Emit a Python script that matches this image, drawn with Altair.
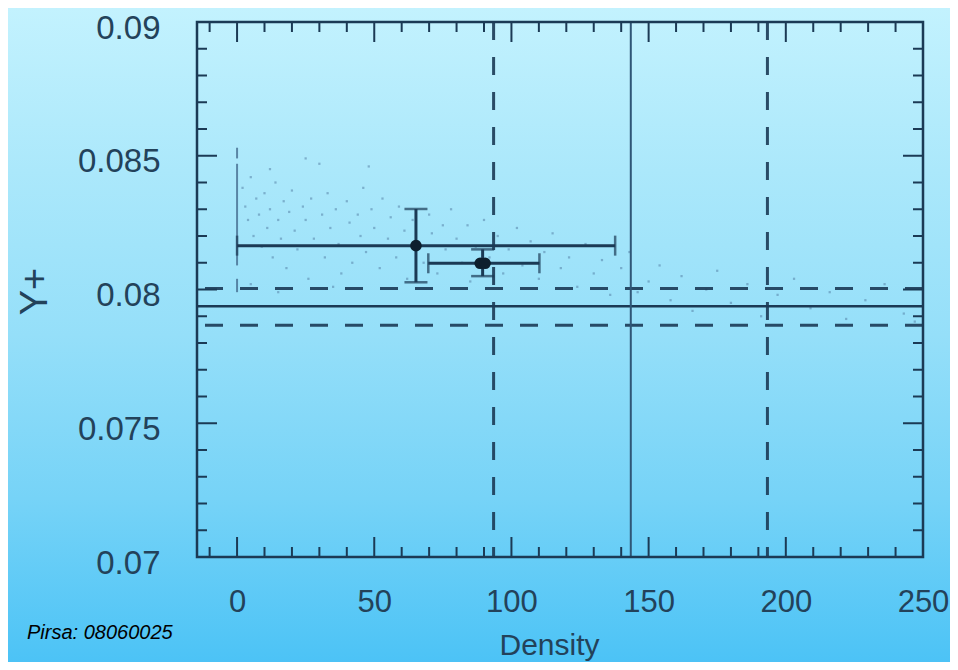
import altair as alt
import pandas as pd

# ---------------- layout ----------------
W, H = 726, 535
PADL, PADT, PADR, PADB = 189, 14, 27, 105

# ---------------- data ----------------
X_DOMAIN = [-14.6, 250]
Y_DOMAIN = [0.07, 0.09]

x_major = [0, 50, 100, 150, 200, 250]
x_minor = [-10, 10, 20, 30, 40, 60, 70, 80, 90, 110, 120, 130, 140,
           160, 170, 180, 190, 210, 220, 230, 240]
y_major = [0.07, 0.075, 0.08, 0.085, 0.09]
y_minor = [0.071, 0.072, 0.073, 0.074, 0.076, 0.077, 0.078, 0.079,
           0.081, 0.082, 0.083, 0.084, 0.086, 0.087, 0.088, 0.089]

h_solid = [0.07937]
h_dashed = [0.08004, 0.07866]
v_solid = [143.5]
v_dashed = [93.5, 193.3]

pt_x = [65.2, 89.5]
pt_y = [0.08164, 0.08098]
pt_xlo = [0.0, 69.7]
pt_xhi = [137.8, 110.2]
pt_ylo = [0.08027, 0.0805]
pt_yhi = [0.08301, 0.0815]
marker_x = [65.2, 88.6, 90.4]
marker_y = [0.08164, 0.08098, 0.08098]

# dense column of points at zero density (segments)
col_y1 = [0.0853, 0.0847, 0.0804]
col_y2 = [0.0849, 0.0809, 0.0799]

cloud_x = [2, 3, 4, 5, 6, 7, 8, 9, 10, 11, 12, 13, 14, 15, 16, 17, 18, 19, 20,
           21, 22, 24, 25, 26, 27, 28, 30, 31, 32, 33, 34, 36, 37, 38, 40, 41,
           42, 44, 45, 46, 47, 49, 50, 52, 53, 55, 56, 58, 59, 61, 62, 64, 66,
           68, 70, 71, 73, 75, 76, 78, 80, 82, 84, 85, 87, 90, 92, 95, 97, 99,
           102, 104, 107, 110, 112, 115, 118, 121, 124, 127, 130, 133, 136,
           140, 143, 146, 150, 154, 158, 162, 166, 171, 175, 180, 186, 191,
           197, 203, 209, 216, 222, 229, 236, 243, 247, 12, 25, 48, 5, 15, 35]
cloud_y = [0.0838, 0.0831, 0.0826, 0.0842, 0.0820, 0.0834, 0.0828, 0.0816,
           0.0836, 0.0823, 0.0830, 0.0812, 0.0840, 0.0826, 0.0819, 0.0833,
           0.0808, 0.0829, 0.0837, 0.0822, 0.0815, 0.0831, 0.0826, 0.0804,
           0.0834, 0.0819, 0.0847, 0.0828, 0.0812, 0.0836, 0.0823, 0.0830,
           0.0817, 0.0806, 0.0833, 0.0825, 0.0810, 0.0828, 0.0820, 0.0838,
           0.0814, 0.0830, 0.0823, 0.0808, 0.0834, 0.0819, 0.0827, 0.0812,
           0.0831, 0.0822, 0.0804, 0.0826, 0.0818, 0.0810, 0.0828, 0.0821,
           0.0806, 0.0824, 0.0815, 0.0830, 0.0819, 0.0810, 0.0824, 0.0803,
           0.0816, 0.0826, 0.0812, 0.0820, 0.0806, 0.0815, 0.0823, 0.0809,
           0.0818, 0.0804, 0.0814, 0.0821, 0.0808, 0.0812, 0.0801, 0.0817,
           0.0806, 0.0811, 0.0798, 0.0808, 0.0814, 0.0799, 0.0803, 0.0809,
           0.0796, 0.0805, 0.0792, 0.0800, 0.0807, 0.0795, 0.0802, 0.0790,
           0.0798, 0.0804, 0.0793, 0.0799, 0.0789, 0.0796, 0.0802, 0.0791,
           0.0788, 0.0845, 0.0849, 0.0846, 0.0802, 0.0799, 0.0801]

# ---------------- styles ----------------
LINE = "#1b3a55"
LAB = "#23425a"
FONT = "Liberation Sans"

xs = alt.Scale(domain=X_DOMAIN, nice=False, zero=False)
ys = alt.Scale(domain=Y_DOMAIN, nice=False, zero=False)

x_axis = alt.Axis(values=x_major, ticks=False, domain=False, grid=False,
                  labelFont=FONT, labelFontSize=31, labelColor=LAB,
                  labelPadding=30, labelFlush=False, labelOverlap=False,
                  title="Density", titleFont=FONT, titleFontSize=30,
                  titleFontWeight="normal", titleColor=LAB,
                  titleX=352, titleY=97, titleBaseline="alphabetic",
                  titleAlign="center", zindex=1)
y_axis = alt.Axis(values=y_major, format=".3~f", ticks=False, domain=False,
                  grid=False, labelFont=FONT, labelFontSize=33,
                  labelColor=LAB, labelPadding=37, labelOffset=6,
                  labelFlush=False, labelOverlap=False,
                  title="Y+", titleFont=FONT, titleFontSize=38,
                  titleFontWeight="normal", titleColor=LAB,
                  titleX=-162, titleY=269, titleAngle=270,
                  titleBaseline="middle", titleAlign="center", zindex=1)


def X(field):
    return alt.X(field, scale=xs, axis=x_axis, title="Density")


def Y(field):
    return alt.Y(field, scale=ys, axis=y_axis, title="Y+")


# ---------------- layers ----------------
bg = alt.Chart(alt.Data(values=[{}])).mark_rect(
    fill=alt.LinearGradient(
        gradient="linear", x1=0, x2=0, y1=0, y2=1,
        stops=[alt.GradientStop(color="#c3f2fe", offset=0),
               alt.GradientStop(color="#abe8fb", offset=0.25),
               alt.GradientStop(color="#95dff9", offset=0.5),
               alt.GradientStop(color="#76d3f7", offset=0.75),
               alt.GradientStop(color="#4cc3f6", offset=1)]),
    strokeWidth=0,
).encode(x=alt.value(-PADL), x2=alt.value(W + PADR),
         y=alt.value(-PADT), y2=alt.value(H + PADB))

cloud_df = pd.DataFrame({"x": cloud_x, "y": cloud_y})
cloud = alt.Chart(cloud_df).mark_square(size=5, color="#4f7aa0", opacity=0.5).encode(
    x=X("x:Q"), y=Y("y:Q"))

col_df = pd.DataFrame({"x": [0] * len(col_y1), "y": col_y1, "y2": col_y2})
column = alt.Chart(col_df).mark_rule(color="#3d6488", strokeWidth=2, opacity=0.75).encode(
    x=X("x:Q"), y=Y("y:Q"), y2="y2:Q")

hs = alt.Chart(pd.DataFrame({"y": h_solid})).mark_rule(color=LINE, strokeWidth=2.5).encode(
    y=Y("y:Q"))
hd = alt.Chart(pd.DataFrame({"y": h_dashed})).mark_rule(
    color=LINE, strokeWidth=3, strokeDash=[18, 17], opacity=0.9).encode(
    y=Y("y:Q"))
vs = alt.Chart(pd.DataFrame({"x": v_solid})).mark_rule(
    color="#2f5676", strokeWidth=2).encode(x=X("x:Q"))
vd = alt.Chart(pd.DataFrame({"x": v_dashed})).mark_rule(
    color=LINE, strokeWidth=3, strokeDash=[18, 17], opacity=0.9).encode(
    x=X("x:Q"))

pts_df = pd.DataFrame({"x": pt_x, "y": pt_y, "xlo": pt_xlo, "xhi": pt_xhi,
                       "ylo": pt_ylo, "yhi": pt_yhi})
hbar = alt.Chart(pts_df).mark_rule(color=LINE, strokeWidth=3).encode(
    x=X("xlo:Q"), x2="xhi:Q", y=Y("y:Q"))
vbar = alt.Chart(pts_df).mark_rule(color=LINE, strokeWidth=3).encode(
    x=X("x:Q"), y=Y("ylo:Q"), y2="yhi:Q")
cap_l = alt.Chart(pts_df).mark_tick(orient="vertical", color=LINE, size=20, thickness=2.5).encode(
    x=X("xlo:Q"), y=Y("y:Q"))
cap_r = alt.Chart(pts_df).mark_tick(orient="vertical", color=LINE, size=20, thickness=2.5).encode(
    x=X("xhi:Q"), y=Y("y:Q"))
cap_b = alt.Chart(pts_df).mark_tick(orient="horizontal", color=LINE, size=23, thickness=2.5).encode(
    x=X("x:Q"), y=Y("ylo:Q"))
cap_t = alt.Chart(pts_df).mark_tick(orient="horizontal", color=LINE, size=23, thickness=2.5).encode(
    x=X("x:Q"), y=Y("yhi:Q"))

mk = alt.Chart(pd.DataFrame({"x": marker_x, "y": marker_y})).mark_circle(
    size=135, color="#0d1f2e", opacity=1).encode(x=X("x:Q"), y=Y("y:Q"))


# axis ticks drawn inward on all four sides
def xticks(vals, length):
    d = pd.DataFrame({"x": vals})
    base = alt.Chart(d).mark_rule(color=LINE, strokeWidth=2)
    bot = base.encode(x=X("x:Q"), y=alt.value(H), y2=alt.value(H - length))
    top = base.encode(x=X("x:Q"), y=alt.value(0), y2=alt.value(length))
    return [bot, top]


def yticks(vals, length):
    d = pd.DataFrame({"y": vals})
    base = alt.Chart(d).mark_rule(color=LINE, strokeWidth=2)
    left = base.encode(y=Y("y:Q"), x=alt.value(0), x2=alt.value(length))
    right = base.encode(y=Y("y:Q"), x=alt.value(W), x2=alt.value(W - length))
    return [left, right]


ticks = xticks(x_major, 20) + xticks(x_minor, 10) + yticks(y_major, 20) + yticks(y_minor, 10)

frame = alt.Chart(alt.Data(values=[{}])).mark_rect(
    fillOpacity=0, stroke=LINE, strokeWidth=2.5).encode(
    x=alt.value(0), x2=alt.value(W), y=alt.value(0), y2=alt.value(H))

pirsa = alt.Chart(alt.Data(values=[{}])).mark_text(
    font=FONT, fontSize=20, fontStyle="italic", color="#000000",
    align="left", baseline="alphabetic").encode(
    x=alt.value(27 - 8 - PADL), y=alt.value(639 - 8 - PADT),
    text=alt.value("Pirsa: 08060025"))

chart = alt.layer(bg, cloud, column, hs, hd, vs, vd, hbar, vbar,
                  cap_l, cap_r, cap_b, cap_t, mk, *ticks, frame, pirsa).properties(
    width=W, height=H,
    autosize=alt.AutoSizeParams(type="none"),
    padding={"left": PADL, "top": PADT, "right": PADR, "bottom": PADB},
    background="#8fdcf8",
).configure_view(stroke=None)

chart.save("out.html", embed_options={"renderer": "svg", "actions": False})
